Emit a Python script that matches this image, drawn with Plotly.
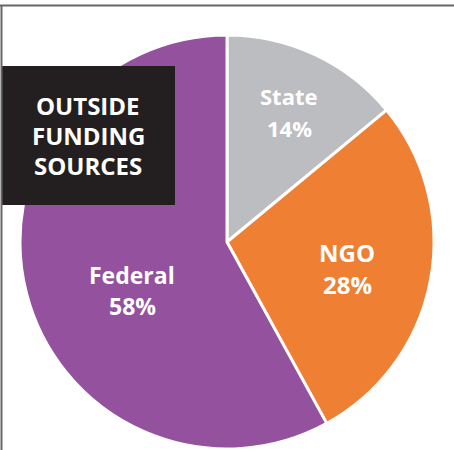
"""Outside funding sources pie."""
import plotly.graph_objects as go

labels = ["State", "NGO", "Federal"]
shares = [14, 28, 58]
colors = ["#BCBDC0", "#EE7F33", "#93519E"]
title_lines = ["OUTSIDE", "FUNDING", "SOURCES"]

W, H = 454, 450
FONT = "'Open Sans', Lato, Arial, sans-serif"


def px_x(x):
    return x / W


def px_y(y):
    return 1 - y / H


def text(x, y, s, size):
    fig.add_annotation(
        x=px_x(x), y=px_y(y), xref="paper", yref="paper", xanchor="center",
        yanchor="middle", text=f"<b>{s}</b>", showarrow=False,
        font=dict(family=FONT, size=size, color="white"),
    )


fig = go.Figure(
    go.Pie(
        labels=labels, values=shares, sort=False, direction="clockwise",
        rotation=0, textinfo="none", hoverinfo="label+percent",
        marker=dict(colors=colors, line=dict(color="white", width=3)),
        domain=dict(x=[px_x(20), px_x(434)], y=[px_y(449), px_y(35)]),
        showlegend=False,
    )
)

# label centres in pixels: (x, name y, pct y, size)
label_pos = {"State": (289, 96, 128, 22), "NGO": (347, 252, 284, 24), "Federal": (132, 275, 306, 23)}
for name, val in zip(labels, shares):
    x, y1, y2, size = label_pos[name]
    text(x, y1, name, size)
    text(x, y2, f"{val}%", size)

fig.add_shape(type="rect", xref="paper", yref="paper", layer="above",
              x0=px_x(2), x1=px_x(175), y0=px_y(205), y1=px_y(66),
              fillcolor="#231F20", line=dict(width=0))
for i, line in enumerate(title_lines):
    text(88, 106 + 30 * i, line, 24)

# frame lines along top and left
fig.add_shape(type="line", xref="paper", yref="paper", x0=0, x1=1,
              y0=px_y(5.5), y1=px_y(5.5), line=dict(color="#666666", width=2))
fig.add_shape(type="line", xref="paper", yref="paper", x0=px_x(1.5), x1=px_x(1.5),
              y0=0, y1=px_y(5), line=dict(color="#666666", width=2))

fig.update_layout(
    width=W, height=H, margin=dict(l=0, r=0, t=0, b=0),
    paper_bgcolor="white", plot_bgcolor="white",
)
fig.write_html(
    "out.html", config={"displayModeBar": False},
    post_script="document.body.style.margin='0';document.body.style.overflow='hidden';",
)
